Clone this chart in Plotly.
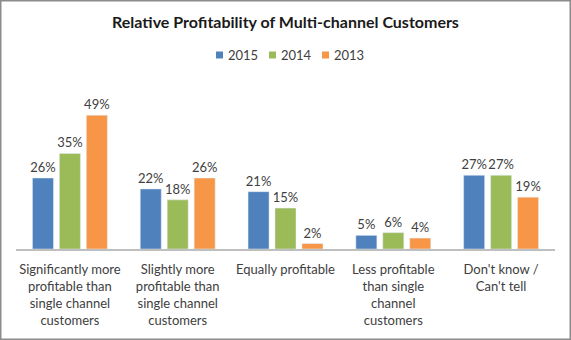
import plotly.graph_objects as go

categories = [
    "Significantly more<br>profitable than<br>single channel<br>customers",
    "Slightly more<br>profitable than<br>single channel<br>customers",
    "Equally profitable",
    "Less profitable<br>than single<br>channel<br>customers",
    "Don't know /<br>Can't tell",
]
series_names = ["2015", "2014", "2013"]
values_2015 = [26, 22, 21, 5, 27]
values_2014 = [35, 18, 15, 6, 27]
values_2013 = [49, 26, 2, 4, 19]
colors = ["#4F81BD", "#9BBB59", "#F79646"]

W, H = 571, 340
ml, mr, mt, mb = 16, 16, 90, 91
pw, ph = W - ml - mr, H - mt - mb
FONT = "Lato, Open Sans, sans-serif"


def px_x(px):
    return (px - ml) / pw


def px_y(py):
    return (H - mb - py) / ph


fig = go.Figure()
for name, vals, col in zip(series_names, [values_2015, values_2014, values_2013], colors):
    fig.add_trace(go.Bar(
        x=categories, y=vals, name=name, marker_color=col,
        texttemplate="%{y}%", textposition="outside", cliponaxis=False,
        constraintext="none",
        textfont=dict(size=13, color="#404040", family=FONT),
    ))

fig.update_layout(
    width=W, height=H,
    margin=dict(l=ml, r=mr, t=mt, b=mb),
    paper_bgcolor="white", plot_bgcolor="white",
    font=dict(family=FONT, size=13, color="#404040"),
    barmode="group", bargap=0.25, bargroupgap=0.22,
    title=dict(text="<b>Relative Profitability of Multi-channel Customers</b>",
               x=0.5, xanchor="center", y=1 - 22 / H, yanchor="middle",
               font=dict(size=16, color="#1a1a1a", family=FONT)),
    showlegend=False,
    xaxis=dict(showline=True, linecolor="#BFBFBF", linewidth=1.5,
               ticks="", showgrid=False, ticklabelstandoff=8,
               tickfont=dict(size=13, color="#404040", family=FONT)),
    yaxis=dict(range=[0, ph / 2.73], visible=False, showgrid=False),
)

# Legend (manual, to match compact Excel-style legend)
leg_x = [216, 269, 322]
for name, col, lx in zip(series_names, colors, leg_x):
    fig.add_shape(type="rect", xref="paper", yref="paper",
                  x0=px_x(lx), x1=px_x(lx + 7), y0=px_y(58.5), y1=px_y(51.5),
                  fillcolor=col, line=dict(width=0))
    fig.add_annotation(x=px_x(lx + 10), y=px_y(55), xref="paper", yref="paper",
                       text=name, showarrow=False, xanchor="left", yanchor="middle",
                       font=dict(size=13, color="#404040", family=FONT))

fig.add_shape(type="rect", xref="paper", yref="paper",
              x0=px_x(0.75), x1=px_x(W - 0.75),
              y0=px_y(H - 0.75), y1=px_y(0.75),
              line=dict(color="#8C8C8C", width=1.5), layer="below")
fig.write_html("out.html")
